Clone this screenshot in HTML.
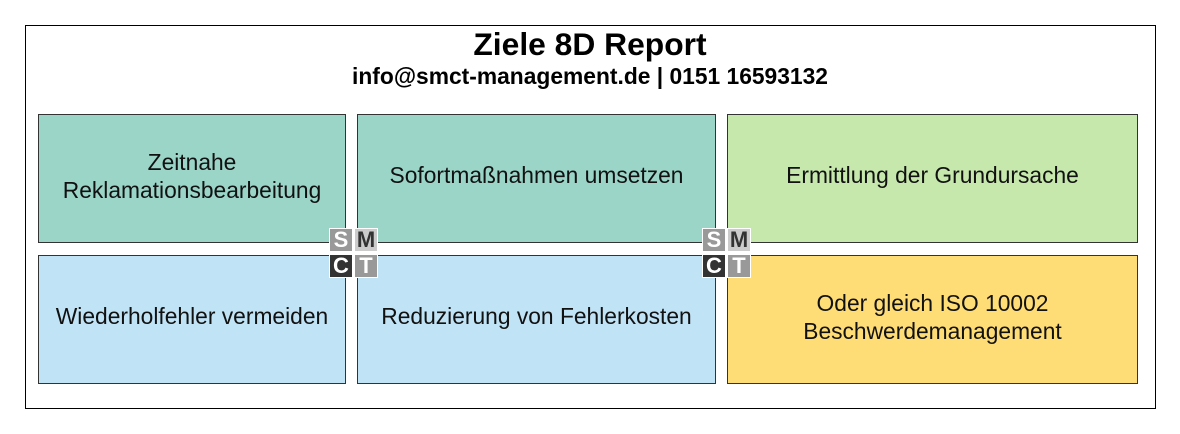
<!DOCTYPE html>
<html><head><style>
body{margin:0;width:1180px;height:434px;background:#fff;position:relative;font-family:"Liberation Sans",sans-serif;overflow:hidden}
.f{position:absolute;left:25px;top:25px;width:1129px;height:382px;border:1px solid #000}
.b{position:absolute;border:1px solid #333;display:flex;align-items:center;justify-content:center;text-align:center;font-size:22.8px;line-height:28px;color:#111;box-sizing:border-box;padding-bottom:8px}
.t{position:absolute;width:22px;height:22px;font-weight:bold;font-size:22px;line-height:22px;text-align:center;font-family:"Liberation Sans",sans-serif}
</style></head><body>
<div class="f"></div>
<div style="position:absolute;left:0;width:1180px;top:26px;text-align:center;font-weight:bold;font-size:31.8px;line-height:36px">Ziele 8D Report</div>
<div style="position:absolute;left:0;width:1180px;top:63px;text-align:center;font-weight:bold;font-size:22.8px;line-height:26px">info@smct-management.de | 0151 16593132</div>
<div class="b" style="left:38px;top:114px;width:308px;height:129px;background:#9ad5c8;padding-bottom:5px">Zeitnahe<br>Reklamationsbearbeitung</div>
<div class="b" style="left:357px;top:114px;width:359px;height:129px;background:#9ad5c8">Sofortmaßnahmen umsetzen</div>
<div class="b" style="left:727px;top:114px;width:411px;height:129px;background:#c7e8ad">Ermittlung der Grundursache</div>
<div class="b" style="left:38px;top:255px;width:308px;height:129px;background:#c1e3f6">Wiederholfehler vermeiden</div>
<div class="b" style="left:357px;top:255px;width:359px;height:129px;background:#c1e3f6">Reduzierung von Fehlerkosten</div>
<div class="b" style="left:727px;top:255px;width:411px;height:129px;background:#fedd77;padding-bottom:5px">Oder gleich ISO 10002<br>Beschwerdemanagement</div>
<div style="position:absolute;left:329px;top:228px;width:49px;height:50px;background:#fff">
<div class="t" style="left:1px;top:1px;background:#999;color:#fff">S</div>
<div class="t" style="left:26px;top:1px;background:#ccc;color:#333">M</div>
<div class="t" style="left:1px;top:27px;background:#333;color:#fff">C</div>
<div class="t" style="left:26px;top:27px;background:#999;color:#fff">T</div>
</div>
<div style="position:absolute;left:702px;top:228px;width:49px;height:50px;background:#fff">
<div class="t" style="left:1px;top:1px;background:#999;color:#fff">S</div>
<div class="t" style="left:26px;top:1px;background:#ccc;color:#333">M</div>
<div class="t" style="left:1px;top:27px;background:#333;color:#fff">C</div>
<div class="t" style="left:26px;top:27px;background:#999;color:#fff">T</div>
</div>
</body></html>
